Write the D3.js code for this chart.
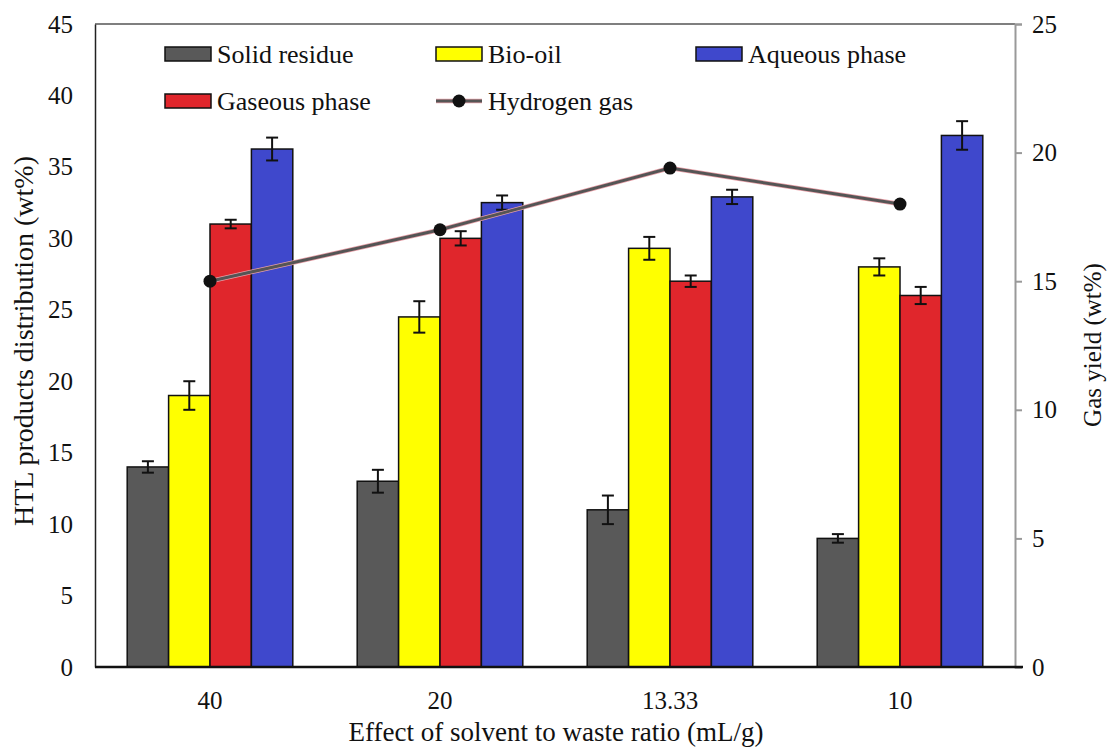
<!DOCTYPE html>
<html>
<head>
<meta charset="utf-8">
<script src="https://cdn.jsdelivr.net/npm/d3@7"></script>
<style>
  body { margin: 0; background: #fff; }
  svg text { font-family: "Liberation Serif", "Times New Roman", serif; fill: #111; }
</style>
</head>
<body>
<svg width="1107" height="749"></svg>
<script>
// chart data
var ratios = ["40", "20", "13.33", "10"];
var seriesNames = ["Solid residue", "Bio-oil", "Gaseous phase", "Aqueous phase"];
var seriesColors = ["#595959", "#ffff00", "#e0262c", "#3f48cc"];
var solidResidue = [14.0, 13.0, 11.0, 9.0];
var solidErr = [0.4, 0.8, 1.0, 0.3];
var bioOil = [19.0, 24.5, 29.3, 28.0];
var bioErr = [1.0, 1.1, 0.8, 0.6];
var gaseousPhase = [31.0, 30.0, 27.0, 26.0];
var gasErr = [0.3, 0.5, 0.4, 0.6];
var aqueousPhase = [36.25, 32.5, 32.9, 37.2];
var aqErr = [0.8, 0.5, 0.5, 1.0];
var hydrogenGas = [15.0, 17.0, 19.4, 18.0];
var leftTicks = [0, 5, 10, 15, 20, 25, 30, 35, 40, 45];
var rightTicks = [0, 5, 10, 15, 20, 25];

var values = [solidResidue, bioOil, gaseousPhase, aqueousPhase];
var errs = [solidErr, bioErr, gasErr, aqErr];
var serif = "'Liberation Serif', 'Times New Roman', serif";

var svg = d3.select("svg"),
  plotL = 95, plotR = 1015, plotT = 24, plotB = 667;

var x = d3.scaleBand().domain(ratios).range([plotL, plotR]).paddingInner(0.28).paddingOuter(0.14);
var xs = d3.scaleBand().domain(d3.range(4)).range([0, x.bandwidth()]);
var y = d3.scaleLinear().domain([0, 45]).range([plotB, plotT]);
var y2 = d3.scaleLinear().domain([0, 25]).range([plotB, plotT]);

// top frame line
svg.append("line").attr("x1", plotL).attr("x2", plotR).attr("y1", plotT).attr("y2", plotT)
  .attr("stroke", "#555").attr("stroke-width", 1.5);

// right axis
var ra = svg.append("g").attr("transform", "translate(" + plotR + ",0)")
  .call(d3.axisRight(y2).tickValues(rightTicks).tickSize(7).tickPadding(10))
  .attr("font-family", serif);
ra.select(".domain").attr("stroke", "#999").attr("stroke-width", 2);
ra.selectAll(".tick line").attr("stroke", "#999").attr("stroke-width", 2);
ra.selectAll("text").attr("font-size", 25).attr("fill", "#111");

// left axis
var la = svg.append("g").attr("transform", "translate(" + plotL + ",0)")
  .call(d3.axisLeft(y).tickValues(leftTicks).tickSize(0).tickPadding(22))
  .attr("font-family", serif);
la.select(".domain").attr("stroke", "#222").attr("stroke-width", 1.5);
la.selectAll("text").attr("font-size", 25).attr("fill", "#111");

// bars
var groups = svg.selectAll(".grp").data(ratios).enter().append("g")
  .attr("class", "grp")
  .attr("transform", function (d) { return "translate(" + x(d) + ",0)"; });

groups.each(function (d, i) {
  var g = d3.select(this);
  values.forEach(function (arr, s) {
    g.append("rect")
      .attr("x", xs(s))
      .attr("y", y(arr[i]))
      .attr("width", xs.bandwidth())
      .attr("height", plotB - y(arr[i]))
      .attr("fill", seriesColors[s])
      .attr("stroke", "#111")
      .attr("stroke-width", 1.5);
  });
  values.forEach(function (arr, s) {
    var cx = xs(s) + xs.bandwidth() / 2,
      hi = y(arr[i] + errs[s][i]), lo = y(arr[i] - errs[s][i]);
    g.append("line").attr("x1", cx).attr("x2", cx).attr("y1", hi).attr("y2", lo)
      .attr("stroke", "#111").attr("stroke-width", 2);
    [hi, lo].forEach(function (yy) {
      g.append("line").attr("x1", cx - 6).attr("x2", cx + 6).attr("y1", yy).attr("y2", yy)
        .attr("stroke", "#111").attr("stroke-width", 2);
    });
  });
});

// bottom axis
var ba = svg.append("g").attr("transform", "translate(0," + plotB + ")")
  .call(d3.axisBottom(x).tickSize(0).tickPadding(24))
  .attr("font-family", serif);
ba.select(".domain").remove();
ba.selectAll("text").attr("font-size", 25).attr("fill", "#111");
svg.append("line").attr("x1", plotL).attr("x2", plotR + 8).attr("y1", plotB).attr("y2", plotB)
  .attr("stroke", "#111").attr("stroke-width", 2.5);

// hydrogen gas line
var line = d3.line()
  .x(function (d, i) { return x(ratios[i]) + x.bandwidth() / 2; })
  .y(function (d) { return y2(d); });
svg.append("path").datum(hydrogenGas).attr("d", line)
  .attr("fill", "none").attr("stroke", "#e8a0a8").attr("stroke-width", 4.5);
svg.append("path").datum(hydrogenGas).attr("d", line)
  .attr("fill", "none").attr("stroke", "#555").attr("stroke-width", 3);
svg.selectAll(".dot").data(hydrogenGas).enter().append("circle")
  .attr("cx", function (d, i) { return x(ratios[i]) + x.bandwidth() / 2; })
  .attr("cy", function (d) { return y2(d); })
  .attr("r", 6.5).attr("fill", "#111");

// axis titles
svg.append("text").attr("transform", "translate(33,341) rotate(-90)")
  .attr("text-anchor", "middle").attr("font-size", 28).text("HTL products distribution (wt%)");
svg.append("text").attr("transform", "translate(1101,345) rotate(-90)")
  .attr("text-anchor", "middle").attr("font-size", 25).text("Gas yield (wt%)");
svg.append("text").attr("x", 556).attr("y", 741)
  .attr("text-anchor", "middle").attr("font-size", 27).text("Effect of solvent to waste ratio (mL/g)");

// legend
var legendItems = [
  { name: "Solid residue", color: seriesColors[0], lx: 165, ly: 54 },
  { name: "Bio-oil", color: seriesColors[1], lx: 436, ly: 54 },
  { name: "Aqueous phase", color: seriesColors[3], lx: 696, ly: 54 },
  { name: "Gaseous phase", color: seriesColors[2], lx: 165, ly: 101 },
  { name: "Hydrogen gas", color: null, lx: 436, ly: 101 }
];
var leg = svg.selectAll(".leg").data(legendItems).enter().append("g")
  .attr("class", "leg")
  .attr("transform", function (d) { return "translate(" + d.lx + "," + d.ly + ")"; });
leg.each(function (d) {
  var g = d3.select(this);
  if (d.color) {
    g.append("rect").attr("x", 0).attr("y", -7).attr("width", 46).attr("height", 14)
      .attr("fill", d.color).attr("stroke", "#111").attr("stroke-width", 1.5);
  } else {
    g.append("line").attr("x1", 0).attr("x2", 46).attr("y1", 0).attr("y2", 0)
      .attr("stroke", "#e8a0a8").attr("stroke-width", 4.5);
    g.append("line").attr("x1", 0).attr("x2", 46).attr("y1", 0).attr("y2", 0)
      .attr("stroke", "#555").attr("stroke-width", 3);
    g.append("circle").attr("cx", 23).attr("cy", 0).attr("r", 6.5).attr("fill", "#111");
  }
  g.append("text").attr("x", 52).attr("y", 0).attr("dy", "0.35em")
    .attr("font-size", 26).text(d.name);
});
</script>
</body>
</html>
